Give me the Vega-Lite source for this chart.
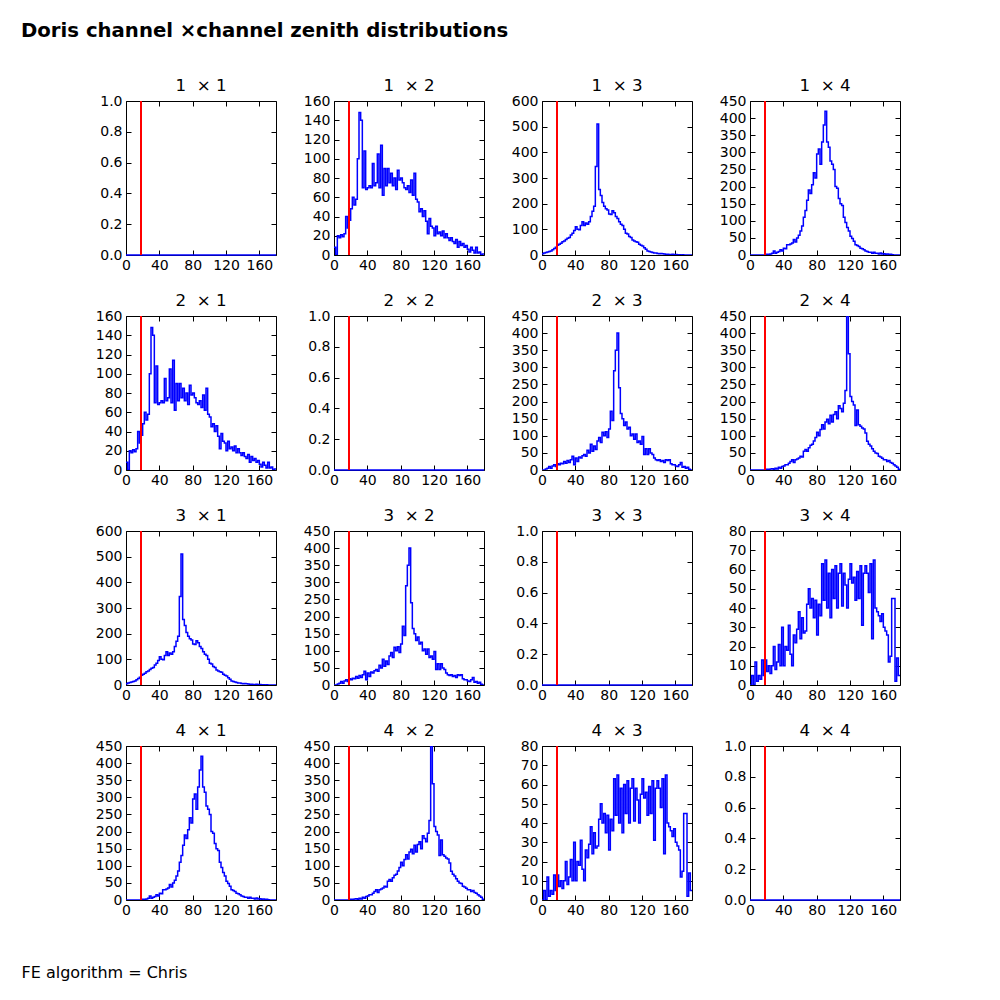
{
"$schema":"https://vega.github.io/schema/vega-lite/v6.json",
"padding":{"left":20,"top":21,"right":10,"bottom":10},
"background":"white",
"title":{"text":"Doris channel \u00d7channel zenith distributions","anchor":"start","frame":"group","dx":-105,"fontSize":19.7,"fontWeight":"bold","offset":21,"baseline":"alphabetic"},
"data":{"values":[
{"x":0,"a":8,"b":5,"c":0,"d":0,"e":0,"f":0},
{"x":2,"a":0,"b":8,"c":0,"d":0,"e":0,"f":5},
{"x":4,"a":20,"b":10,"c":0,"d":3,"e":0,"f":0},
{"x":6,"a":18,"b":12,"c":0,"d":5,"e":0,"f":12},
{"x":8,"a":21,"b":14,"c":0,"d":10,"e":0,"f":2},
{"x":10,"a":19,"b":16,"c":0,"d":5,"e":0,"f":5},
{"x":12,"a":22,"b":20,"c":0,"d":12,"e":0,"f":3},
{"x":14,"a":40,"b":25,"c":0,"d":15,"e":0,"f":13},
{"x":16,"a":28,"b":30,"c":0,"d":10,"e":0,"f":5},
{"x":18,"a":36,"b":38,"c":1,"d":18,"e":1,"f":13},
{"x":20,"a":48,"b":42,"c":2,"d":15,"e":2,"f":7},
{"x":22,"a":60,"b":46,"c":2,"d":20,"e":1,"f":10},
{"x":24,"a":52,"b":52,"c":3,"d":18,"e":3,"f":6},
{"x":26,"a":58,"b":55,"c":5,"d":25,"e":4,"f":10},
{"x":28,"a":100,"b":60,"c":12,"d":20,"e":2,"f":20},
{"x":30,"a":148,"b":65,"c":5,"d":28,"e":5,"f":8},
{"x":32,"a":140,"b":68,"c":8,"d":22,"e":3,"f":12},
{"x":34,"a":70,"b":78,"c":10,"d":30,"e":8,"f":21},
{"x":36,"a":108,"b":85,"c":15,"d":40,"e":5,"f":10},
{"x":38,"a":68,"b":95,"c":12,"d":15,"e":10,"f":30},
{"x":40,"a":70,"b":110,"c":20,"d":35,"e":12,"f":10},
{"x":42,"a":72,"b":100,"c":18,"d":25,"e":15,"f":20},
{"x":44,"a":70,"b":98,"c":30,"d":38,"e":15,"f":18},
{"x":46,"a":95,"b":115,"c":30,"d":35,"e":20,"f":31},
{"x":48,"a":72,"b":130,"c":32,"d":42,"e":25,"f":16},
{"x":50,"a":75,"b":115,"c":35,"d":45,"e":30,"f":10},
{"x":52,"a":105,"b":125,"c":45,"d":40,"e":22,"f":26},
{"x":54,"a":70,"b":120,"c":38,"d":58,"e":30,"f":22},
{"x":56,"a":114,"b":130,"c":50,"d":50,"e":32,"f":29},
{"x":58,"a":62,"b":150,"c":58,"d":75,"e":35,"f":38},
{"x":60,"a":90,"b":170,"c":70,"d":55,"e":40,"f":24},
{"x":62,"a":72,"b":190,"c":85,"d":70,"e":38,"f":35},
{"x":64,"a":90,"b":345,"c":110,"d":60,"e":55,"f":27},
{"x":66,"a":75,"b":510,"c":130,"d":85,"e":60,"f":28},
{"x":68,"a":85,"b":255,"c":160,"d":95,"e":55,"f":42},
{"x":70,"a":72,"b":232,"c":190,"d":80,"e":65,"f":50},
{"x":72,"a":80,"b":205,"c":180,"d":110,"e":72,"f":40},
{"x":74,"a":68,"b":190,"c":205,"d":100,"e":75,"f":45},
{"x":76,"a":88,"b":180,"c":240,"d":112,"e":85,"f":35},
{"x":78,"a":78,"b":175,"c":225,"d":95,"e":95,"f":44},
{"x":80,"a":80,"b":160,"c":295,"d":120,"e":110,"f":26},
{"x":82,"a":75,"b":158,"c":310,"d":172,"e":100,"f":42},
{"x":84,"a":70,"b":172,"c":265,"d":145,"e":118,"f":36},
{"x":86,"a":68,"b":165,"c":330,"d":290,"e":132,"f":63},
{"x":88,"a":72,"b":150,"c":380,"d":350,"e":120,"f":44},
{"x":90,"a":65,"b":142,"c":420,"d":400,"e":140,"f":65},
{"x":92,"a":78,"b":130,"c":330,"d":240,"e":148,"f":40},
{"x":94,"a":62,"b":120,"c":315,"d":165,"e":135,"f":58},
{"x":96,"a":85,"b":115,"c":275,"d":150,"e":160,"f":35},
{"x":98,"a":58,"b":100,"c":265,"d":130,"e":140,"f":60},
{"x":100,"a":55,"b":85,"c":250,"d":140,"e":162,"f":45},
{"x":102,"a":45,"b":82,"c":200,"d":120,"e":170,"f":62},
{"x":104,"a":48,"b":72,"c":195,"d":125,"e":150,"f":40},
{"x":106,"a":40,"b":68,"c":165,"d":100,"e":188,"f":58},
{"x":108,"a":46,"b":58,"c":150,"d":105,"e":180,"f":63},
{"x":110,"a":35,"b":55,"c":145,"d":90,"e":170,"f":41},
{"x":112,"a":22,"b":52,"c":110,"d":105,"e":195,"f":58},
{"x":114,"a":38,"b":50,"c":95,"d":80,"e":232,"f":52},
{"x":116,"a":30,"b":42,"c":80,"d":85,"e":450,"f":40},
{"x":118,"a":28,"b":38,"c":70,"d":75,"e":340,"f":55},
{"x":120,"a":20,"b":35,"c":55,"d":98,"e":215,"f":63},
{"x":122,"a":30,"b":28,"c":48,"d":45,"e":200,"f":53},
{"x":124,"a":22,"b":22,"c":40,"d":62,"e":190,"f":56},
{"x":126,"a":24,"b":16,"c":30,"d":45,"e":130,"f":44},
{"x":128,"a":20,"b":14,"c":28,"d":62,"e":175,"f":59},
{"x":130,"a":25,"b":12,"c":25,"d":50,"e":132,"f":45},
{"x":132,"a":18,"b":10,"c":20,"d":45,"e":128,"f":62},
{"x":134,"a":22,"b":8,"c":18,"d":35,"e":123,"f":31},
{"x":136,"a":18,"b":8,"c":15,"d":30,"e":120,"f":58},
{"x":138,"a":15,"b":6,"c":12,"d":28,"e":108,"f":62},
{"x":140,"a":18,"b":5,"c":10,"d":30,"e":84,"f":58},
{"x":142,"a":14,"b":6,"c":8,"d":25,"e":75,"f":48},
{"x":144,"a":12,"b":5,"c":8,"d":28,"e":70,"f":63},
{"x":146,"a":16,"b":4,"c":5,"d":22,"e":62,"f":24},
{"x":148,"a":8,"b":3,"c":8,"d":30,"e":55,"f":65},
{"x":150,"a":14,"b":3,"c":5,"d":28,"e":50,"f":40},
{"x":152,"a":10,"b":2,"c":5,"d":30,"e":48,"f":38},
{"x":154,"a":12,"b":2,"c":3,"d":18,"e":40,"f":36},
{"x":156,"a":8,"b":3,"c":6,"d":15,"e":38,"f":33},
{"x":158,"a":10,"b":1,"c":3,"d":15,"e":34,"f":37},
{"x":160,"a":6,"b":2,"c":4,"d":12,"e":30,"f":30},
{"x":162,"a":3,"b":1,"c":2,"d":10,"e":30,"f":28},
{"x":164,"a":8,"b":1,"c":3,"d":15,"e":25,"f":26},
{"x":166,"a":5,"b":0,"c":2,"d":22,"e":28,"f":12},
{"x":168,"a":2,"b":1,"c":2,"d":8,"e":22,"f":15},
{"x":170,"a":8,"b":0,"c":1,"d":10,"e":20,"f":45},
{"x":172,"a":2,"b":0,"c":0,"d":5,"e":15,"f":45},
{"x":174,"a":3,"b":0,"c":0,"d":8,"e":12,"f":2},
{"x":176,"a":0,"b":0,"c":0,"d":2,"e":8,"f":14},
{"x":178,"a":1,"b":0,"c":0,"d":0,"e":2,"f":5},
{"x":180,"a":1,"b":0,"c":0,"d":0,"e":2,"f":5}
]},
"columns":4,
"spacing":{"row":61,"column":58},
"bounds":"flush",
"concat":[
{"title":"1\u00a0 \u00d7 1","width":150,"height":154,"layer":[
 {"mark":{"type":"line","color":"#0000ff","strokeWidth":1.5},"encoding":{"x":{"field":"x","type":"quantitative","scale":{"domain":[0,180],"nice":false},"axis":{"values":[0,40,80,120,160],"title":null,"encode":{"labels":{"update":{"fontSize":{"value":14}}}}}},"y":{"datum":0,"type":"quantitative","scale":{"domain":[0,1],"nice":false},"axis":{"values":[0,0.2,0.4,0.6,0.8,1],"format":".1f","title":null,"encode":{"labels":{"update":{"fontSize":{"value":14}}}}}}}},
 {"mark":{"type":"line","opacity":0},"encoding":{"x":{"field":"x","type":"quantitative","scale":{"domain":[0,180],"nice":false},"axis":{"orient":"top","labels":false,"values":[0,40,80,120,160],"title":null}},"y":{"datum":0,"type":"quantitative","scale":{"domain":[0,1],"nice":false},"axis":{"orient":"right","labels":false,"values":[0,0.2,0.4,0.6,0.8,1],"title":null}}}},
 {"mark":{"type":"rule","color":"#ff0000","strokeWidth":1.2},"encoding":{"x":{"datum":18,"type":"quantitative","axis":null}}}
],"resolve":{"axis":{"x":"independent","y":"independent"}}},
{"title":"1\u00a0 \u00d7 2","width":150,"height":154,"layer":[
 {"mark":{"type":"line","interpolate":"step-after","color":"#0000ff","strokeWidth":1.5,"clip":true},"encoding":{"x":{"field":"x","type":"quantitative","scale":{"domain":[0,180],"nice":false},"axis":{"values":[0,40,80,120,160],"title":null,"encode":{"labels":{"update":{"fontSize":{"value":14}}}}}},"y":{"field":"a","type":"quantitative","scale":{"domain":[0,160],"nice":false},"axis":{"values":[0,20,40,60,80,100,120,140,160],"format":"d","title":null,"encode":{"labels":{"update":{"fontSize":{"value":14}}}}}}}},
 {"mark":{"type":"line","opacity":0},"encoding":{"x":{"field":"x","type":"quantitative","scale":{"domain":[0,180],"nice":false},"axis":{"orient":"top","labels":false,"values":[0,40,80,120,160],"title":null}},"y":{"field":"a","type":"quantitative","scale":{"domain":[0,160],"nice":false},"axis":{"orient":"right","labels":false,"values":[0,20,40,60,80,100,120,140,160],"title":null}}}},
 {"mark":{"type":"rule","color":"#ff0000","strokeWidth":1.2},"encoding":{"x":{"datum":18,"type":"quantitative","axis":null}}}
],"resolve":{"axis":{"x":"independent","y":"independent"}}},
{"title":"1\u00a0 \u00d7 3","width":150,"height":154,"layer":[
 {"mark":{"type":"line","interpolate":"step-after","color":"#0000ff","strokeWidth":1.5,"clip":true},"encoding":{"x":{"field":"x","type":"quantitative","scale":{"domain":[0,180],"nice":false},"axis":{"values":[0,40,80,120,160],"title":null,"encode":{"labels":{"update":{"fontSize":{"value":14}}}}}},"y":{"field":"b","type":"quantitative","scale":{"domain":[0,600],"nice":false},"axis":{"values":[0,100,200,300,400,500,600],"format":"d","title":null,"encode":{"labels":{"update":{"fontSize":{"value":14}}}}}}}},
 {"mark":{"type":"line","opacity":0},"encoding":{"x":{"field":"x","type":"quantitative","scale":{"domain":[0,180],"nice":false},"axis":{"orient":"top","labels":false,"values":[0,40,80,120,160],"title":null}},"y":{"field":"b","type":"quantitative","scale":{"domain":[0,600],"nice":false},"axis":{"orient":"right","labels":false,"values":[0,100,200,300,400,500,600],"title":null}}}},
 {"mark":{"type":"rule","color":"#ff0000","strokeWidth":1.2},"encoding":{"x":{"datum":18,"type":"quantitative","axis":null}}}
],"resolve":{"axis":{"x":"independent","y":"independent"}}},
{"title":"1\u00a0 \u00d7 4","width":150,"height":154,"layer":[
 {"mark":{"type":"line","interpolate":"step-after","color":"#0000ff","strokeWidth":1.5,"clip":true},"encoding":{"x":{"field":"x","type":"quantitative","scale":{"domain":[0,180],"nice":false},"axis":{"values":[0,40,80,120,160],"title":null,"encode":{"labels":{"update":{"fontSize":{"value":14}}}}}},"y":{"field":"c","type":"quantitative","scale":{"domain":[0,450],"nice":false},"axis":{"values":[0,50,100,150,200,250,300,350,400,450],"format":"d","title":null,"encode":{"labels":{"update":{"fontSize":{"value":14}}}}}}}},
 {"mark":{"type":"line","opacity":0},"encoding":{"x":{"field":"x","type":"quantitative","scale":{"domain":[0,180],"nice":false},"axis":{"orient":"top","labels":false,"values":[0,40,80,120,160],"title":null}},"y":{"field":"c","type":"quantitative","scale":{"domain":[0,450],"nice":false},"axis":{"orient":"right","labels":false,"values":[0,50,100,150,200,250,300,350,400,450],"title":null}}}},
 {"mark":{"type":"rule","color":"#ff0000","strokeWidth":1.2},"encoding":{"x":{"datum":18,"type":"quantitative","axis":null}}}
],"resolve":{"axis":{"x":"independent","y":"independent"}}},
{"title":"2\u00a0 \u00d7 1","width":150,"height":154,"layer":[
 {"mark":{"type":"line","interpolate":"step-after","color":"#0000ff","strokeWidth":1.5,"clip":true},"encoding":{"x":{"field":"x","type":"quantitative","scale":{"domain":[0,180],"nice":false},"axis":{"values":[0,40,80,120,160],"title":null,"encode":{"labels":{"update":{"fontSize":{"value":14}}}}}},"y":{"field":"a","type":"quantitative","scale":{"domain":[0,160],"nice":false},"axis":{"values":[0,20,40,60,80,100,120,140,160],"format":"d","title":null,"encode":{"labels":{"update":{"fontSize":{"value":14}}}}}}}},
 {"mark":{"type":"line","opacity":0},"encoding":{"x":{"field":"x","type":"quantitative","scale":{"domain":[0,180],"nice":false},"axis":{"orient":"top","labels":false,"values":[0,40,80,120,160],"title":null}},"y":{"field":"a","type":"quantitative","scale":{"domain":[0,160],"nice":false},"axis":{"orient":"right","labels":false,"values":[0,20,40,60,80,100,120,140,160],"title":null}}}},
 {"mark":{"type":"rule","color":"#ff0000","strokeWidth":1.2},"encoding":{"x":{"datum":18,"type":"quantitative","axis":null}}}
],"resolve":{"axis":{"x":"independent","y":"independent"}}},
{"title":"2\u00a0 \u00d7 2","width":150,"height":154,"layer":[
 {"mark":{"type":"line","color":"#0000ff","strokeWidth":1.5},"encoding":{"x":{"field":"x","type":"quantitative","scale":{"domain":[0,180],"nice":false},"axis":{"values":[0,40,80,120,160],"title":null,"encode":{"labels":{"update":{"fontSize":{"value":14}}}}}},"y":{"datum":0,"type":"quantitative","scale":{"domain":[0,1],"nice":false},"axis":{"values":[0,0.2,0.4,0.6,0.8,1],"format":".1f","title":null,"encode":{"labels":{"update":{"fontSize":{"value":14}}}}}}}},
 {"mark":{"type":"line","opacity":0},"encoding":{"x":{"field":"x","type":"quantitative","scale":{"domain":[0,180],"nice":false},"axis":{"orient":"top","labels":false,"values":[0,40,80,120,160],"title":null}},"y":{"datum":0,"type":"quantitative","scale":{"domain":[0,1],"nice":false},"axis":{"orient":"right","labels":false,"values":[0,0.2,0.4,0.6,0.8,1],"title":null}}}},
 {"mark":{"type":"rule","color":"#ff0000","strokeWidth":1.2},"encoding":{"x":{"datum":18,"type":"quantitative","axis":null}}}
],"resolve":{"axis":{"x":"independent","y":"independent"}}},
{"title":"2\u00a0 \u00d7 3","width":150,"height":154,"layer":[
 {"mark":{"type":"line","interpolate":"step-after","color":"#0000ff","strokeWidth":1.5,"clip":true},"encoding":{"x":{"field":"x","type":"quantitative","scale":{"domain":[0,180],"nice":false},"axis":{"values":[0,40,80,120,160],"title":null,"encode":{"labels":{"update":{"fontSize":{"value":14}}}}}},"y":{"field":"d","type":"quantitative","scale":{"domain":[0,450],"nice":false},"axis":{"values":[0,50,100,150,200,250,300,350,400,450],"format":"d","title":null,"encode":{"labels":{"update":{"fontSize":{"value":14}}}}}}}},
 {"mark":{"type":"line","opacity":0},"encoding":{"x":{"field":"x","type":"quantitative","scale":{"domain":[0,180],"nice":false},"axis":{"orient":"top","labels":false,"values":[0,40,80,120,160],"title":null}},"y":{"field":"d","type":"quantitative","scale":{"domain":[0,450],"nice":false},"axis":{"orient":"right","labels":false,"values":[0,50,100,150,200,250,300,350,400,450],"title":null}}}},
 {"mark":{"type":"rule","color":"#ff0000","strokeWidth":1.2},"encoding":{"x":{"datum":18,"type":"quantitative","axis":null}}}
],"resolve":{"axis":{"x":"independent","y":"independent"}}},
{"title":"2\u00a0 \u00d7 4","width":150,"height":154,"layer":[
 {"mark":{"type":"line","interpolate":"step-after","color":"#0000ff","strokeWidth":1.5,"clip":true},"encoding":{"x":{"field":"x","type":"quantitative","scale":{"domain":[0,180],"nice":false},"axis":{"values":[0,40,80,120,160],"title":null,"encode":{"labels":{"update":{"fontSize":{"value":14}}}}}},"y":{"field":"e","type":"quantitative","scale":{"domain":[0,450],"nice":false},"axis":{"values":[0,50,100,150,200,250,300,350,400,450],"format":"d","title":null,"encode":{"labels":{"update":{"fontSize":{"value":14}}}}}}}},
 {"mark":{"type":"line","opacity":0},"encoding":{"x":{"field":"x","type":"quantitative","scale":{"domain":[0,180],"nice":false},"axis":{"orient":"top","labels":false,"values":[0,40,80,120,160],"title":null}},"y":{"field":"e","type":"quantitative","scale":{"domain":[0,450],"nice":false},"axis":{"orient":"right","labels":false,"values":[0,50,100,150,200,250,300,350,400,450],"title":null}}}},
 {"mark":{"type":"rule","color":"#ff0000","strokeWidth":1.2},"encoding":{"x":{"datum":18,"type":"quantitative","axis":null}}}
],"resolve":{"axis":{"x":"independent","y":"independent"}}},
{"title":"3\u00a0 \u00d7 1","width":150,"height":154,"layer":[
 {"mark":{"type":"line","interpolate":"step-after","color":"#0000ff","strokeWidth":1.5,"clip":true},"encoding":{"x":{"field":"x","type":"quantitative","scale":{"domain":[0,180],"nice":false},"axis":{"values":[0,40,80,120,160],"title":null,"encode":{"labels":{"update":{"fontSize":{"value":14}}}}}},"y":{"field":"b","type":"quantitative","scale":{"domain":[0,600],"nice":false},"axis":{"values":[0,100,200,300,400,500,600],"format":"d","title":null,"encode":{"labels":{"update":{"fontSize":{"value":14}}}}}}}},
 {"mark":{"type":"line","opacity":0},"encoding":{"x":{"field":"x","type":"quantitative","scale":{"domain":[0,180],"nice":false},"axis":{"orient":"top","labels":false,"values":[0,40,80,120,160],"title":null}},"y":{"field":"b","type":"quantitative","scale":{"domain":[0,600],"nice":false},"axis":{"orient":"right","labels":false,"values":[0,100,200,300,400,500,600],"title":null}}}},
 {"mark":{"type":"rule","color":"#ff0000","strokeWidth":1.2},"encoding":{"x":{"datum":18,"type":"quantitative","axis":null}}}
],"resolve":{"axis":{"x":"independent","y":"independent"}}},
{"title":"3\u00a0 \u00d7 2","width":150,"height":154,"layer":[
 {"mark":{"type":"line","interpolate":"step-after","color":"#0000ff","strokeWidth":1.5,"clip":true},"encoding":{"x":{"field":"x","type":"quantitative","scale":{"domain":[0,180],"nice":false},"axis":{"values":[0,40,80,120,160],"title":null,"encode":{"labels":{"update":{"fontSize":{"value":14}}}}}},"y":{"field":"d","type":"quantitative","scale":{"domain":[0,450],"nice":false},"axis":{"values":[0,50,100,150,200,250,300,350,400,450],"format":"d","title":null,"encode":{"labels":{"update":{"fontSize":{"value":14}}}}}}}},
 {"mark":{"type":"line","opacity":0},"encoding":{"x":{"field":"x","type":"quantitative","scale":{"domain":[0,180],"nice":false},"axis":{"orient":"top","labels":false,"values":[0,40,80,120,160],"title":null}},"y":{"field":"d","type":"quantitative","scale":{"domain":[0,450],"nice":false},"axis":{"orient":"right","labels":false,"values":[0,50,100,150,200,250,300,350,400,450],"title":null}}}},
 {"mark":{"type":"rule","color":"#ff0000","strokeWidth":1.2},"encoding":{"x":{"datum":18,"type":"quantitative","axis":null}}}
],"resolve":{"axis":{"x":"independent","y":"independent"}}},
{"title":"3\u00a0 \u00d7 3","width":150,"height":154,"layer":[
 {"mark":{"type":"line","color":"#0000ff","strokeWidth":1.5},"encoding":{"x":{"field":"x","type":"quantitative","scale":{"domain":[0,180],"nice":false},"axis":{"values":[0,40,80,120,160],"title":null,"encode":{"labels":{"update":{"fontSize":{"value":14}}}}}},"y":{"datum":0,"type":"quantitative","scale":{"domain":[0,1],"nice":false},"axis":{"values":[0,0.2,0.4,0.6,0.8,1],"format":".1f","title":null,"encode":{"labels":{"update":{"fontSize":{"value":14}}}}}}}},
 {"mark":{"type":"line","opacity":0},"encoding":{"x":{"field":"x","type":"quantitative","scale":{"domain":[0,180],"nice":false},"axis":{"orient":"top","labels":false,"values":[0,40,80,120,160],"title":null}},"y":{"datum":0,"type":"quantitative","scale":{"domain":[0,1],"nice":false},"axis":{"orient":"right","labels":false,"values":[0,0.2,0.4,0.6,0.8,1],"title":null}}}},
 {"mark":{"type":"rule","color":"#ff0000","strokeWidth":1.2},"encoding":{"x":{"datum":18,"type":"quantitative","axis":null}}}
],"resolve":{"axis":{"x":"independent","y":"independent"}}},
{"title":"3\u00a0 \u00d7 4","width":150,"height":154,"layer":[
 {"mark":{"type":"line","interpolate":"step-after","color":"#0000ff","strokeWidth":1.5,"clip":true},"encoding":{"x":{"field":"x","type":"quantitative","scale":{"domain":[0,180],"nice":false},"axis":{"values":[0,40,80,120,160],"title":null,"encode":{"labels":{"update":{"fontSize":{"value":14}}}}}},"y":{"field":"f","type":"quantitative","scale":{"domain":[0,80],"nice":false},"axis":{"values":[0,10,20,30,40,50,60,70,80],"format":"d","title":null,"encode":{"labels":{"update":{"fontSize":{"value":14}}}}}}}},
 {"mark":{"type":"line","opacity":0},"encoding":{"x":{"field":"x","type":"quantitative","scale":{"domain":[0,180],"nice":false},"axis":{"orient":"top","labels":false,"values":[0,40,80,120,160],"title":null}},"y":{"field":"f","type":"quantitative","scale":{"domain":[0,80],"nice":false},"axis":{"orient":"right","labels":false,"values":[0,10,20,30,40,50,60,70,80],"title":null}}}},
 {"mark":{"type":"rule","color":"#ff0000","strokeWidth":1.2},"encoding":{"x":{"datum":18,"type":"quantitative","axis":null}}}
],"resolve":{"axis":{"x":"independent","y":"independent"}}},
{"title":"4\u00a0 \u00d7 1","width":150,"height":154,"layer":[
 {"mark":{"type":"line","interpolate":"step-after","color":"#0000ff","strokeWidth":1.5,"clip":true},"encoding":{"x":{"field":"x","type":"quantitative","scale":{"domain":[0,180],"nice":false},"axis":{"values":[0,40,80,120,160],"encode":{"labels":{"update":{"fontSize":{"value":14}}}},"title":"FE algorithm = Chris","titleX":-105,"titleY":77,"titleAlign":"left","titleAnchor":"start","titleBaseline":"alphabetic","titleFontSize":16,"titleFontWeight":"normal","titleColor":"black","titleFont":"DejaVu Sans"}},"y":{"field":"c","type":"quantitative","scale":{"domain":[0,450],"nice":false},"axis":{"values":[0,50,100,150,200,250,300,350,400,450],"format":"d","title":null,"encode":{"labels":{"update":{"fontSize":{"value":14}}}}}}}},
 {"mark":{"type":"line","opacity":0},"encoding":{"x":{"field":"x","type":"quantitative","scale":{"domain":[0,180],"nice":false},"axis":{"orient":"top","labels":false,"values":[0,40,80,120,160],"title":null}},"y":{"field":"c","type":"quantitative","scale":{"domain":[0,450],"nice":false},"axis":{"orient":"right","labels":false,"values":[0,50,100,150,200,250,300,350,400,450],"title":null}}}},
 {"mark":{"type":"rule","color":"#ff0000","strokeWidth":1.2},"encoding":{"x":{"datum":18,"type":"quantitative","axis":null}}}
],"resolve":{"axis":{"x":"independent","y":"independent"}}},
{"title":"4\u00a0 \u00d7 2","width":150,"height":154,"layer":[
 {"mark":{"type":"line","interpolate":"step-after","color":"#0000ff","strokeWidth":1.5,"clip":true},"encoding":{"x":{"field":"x","type":"quantitative","scale":{"domain":[0,180],"nice":false},"axis":{"values":[0,40,80,120,160],"title":null,"encode":{"labels":{"update":{"fontSize":{"value":14}}}}}},"y":{"field":"e","type":"quantitative","scale":{"domain":[0,450],"nice":false},"axis":{"values":[0,50,100,150,200,250,300,350,400,450],"format":"d","title":null,"encode":{"labels":{"update":{"fontSize":{"value":14}}}}}}}},
 {"mark":{"type":"line","opacity":0},"encoding":{"x":{"field":"x","type":"quantitative","scale":{"domain":[0,180],"nice":false},"axis":{"orient":"top","labels":false,"values":[0,40,80,120,160],"title":null}},"y":{"field":"e","type":"quantitative","scale":{"domain":[0,450],"nice":false},"axis":{"orient":"right","labels":false,"values":[0,50,100,150,200,250,300,350,400,450],"title":null}}}},
 {"mark":{"type":"rule","color":"#ff0000","strokeWidth":1.2},"encoding":{"x":{"datum":18,"type":"quantitative","axis":null}}}
],"resolve":{"axis":{"x":"independent","y":"independent"}}},
{"title":"4\u00a0 \u00d7 3","width":150,"height":154,"layer":[
 {"mark":{"type":"line","interpolate":"step-after","color":"#0000ff","strokeWidth":1.5,"clip":true},"encoding":{"x":{"field":"x","type":"quantitative","scale":{"domain":[0,180],"nice":false},"axis":{"values":[0,40,80,120,160],"title":null,"encode":{"labels":{"update":{"fontSize":{"value":14}}}}}},"y":{"field":"f","type":"quantitative","scale":{"domain":[0,80],"nice":false},"axis":{"values":[0,10,20,30,40,50,60,70,80],"format":"d","title":null,"encode":{"labels":{"update":{"fontSize":{"value":14}}}}}}}},
 {"mark":{"type":"line","opacity":0},"encoding":{"x":{"field":"x","type":"quantitative","scale":{"domain":[0,180],"nice":false},"axis":{"orient":"top","labels":false,"values":[0,40,80,120,160],"title":null}},"y":{"field":"f","type":"quantitative","scale":{"domain":[0,80],"nice":false},"axis":{"orient":"right","labels":false,"values":[0,10,20,30,40,50,60,70,80],"title":null}}}},
 {"mark":{"type":"rule","color":"#ff0000","strokeWidth":1.2},"encoding":{"x":{"datum":18,"type":"quantitative","axis":null}}}
],"resolve":{"axis":{"x":"independent","y":"independent"}}},
{"title":"4\u00a0 \u00d7 4","width":150,"height":154,"layer":[
 {"mark":{"type":"line","color":"#0000ff","strokeWidth":1.5},"encoding":{"x":{"field":"x","type":"quantitative","scale":{"domain":[0,180],"nice":false},"axis":{"values":[0,40,80,120,160],"title":null,"encode":{"labels":{"update":{"fontSize":{"value":14}}}}}},"y":{"datum":0,"type":"quantitative","scale":{"domain":[0,1],"nice":false},"axis":{"values":[0,0.2,0.4,0.6,0.8,1],"format":".1f","title":null,"encode":{"labels":{"update":{"fontSize":{"value":14}}}}}}}},
 {"mark":{"type":"line","opacity":0},"encoding":{"x":{"field":"x","type":"quantitative","scale":{"domain":[0,180],"nice":false},"axis":{"orient":"top","labels":false,"values":[0,40,80,120,160],"title":null}},"y":{"datum":0,"type":"quantitative","scale":{"domain":[0,1],"nice":false},"axis":{"orient":"right","labels":false,"values":[0,0.2,0.4,0.6,0.8,1],"title":null}}}},
 {"mark":{"type":"rule","color":"#ff0000","strokeWidth":1.2},"encoding":{"x":{"datum":18,"type":"quantitative","axis":null}}}
],"resolve":{"axis":{"x":"independent","y":"independent"}}}
],
"config":{
 "font":"DejaVu Sans",
 "view":{"stroke":"black","strokeWidth":1},
 "axis":{"grid":false,"domain":false,"tickColor":"black","tickSize":-5,"tickWidth":1,"labelFont":"DejaVu Sans","labelFontSize":14,"labelColor":"black","labelOverlap":false,"labelFlush":false},
 "axisX":{"labelPadding":8},
 "axisY":{"labelPadding":9},
 "title":{"font":"DejaVu Sans","fontSize":16.7,"fontWeight":"normal","color":"black","offset":-1,"baseline":"alphabetic"}
}
}
